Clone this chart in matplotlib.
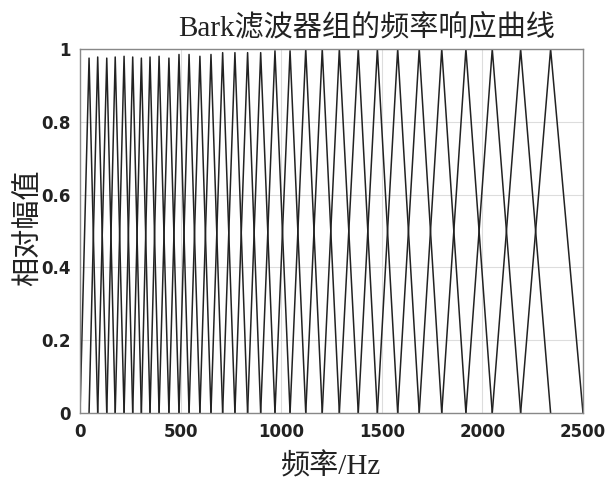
import matplotlib
matplotlib.use("Agg")
import matplotlib.pyplot as plt
import numpy as np

# Centre frequencies (Hz) of the Bark triangular filters
centers = [45, 88, 133, 175, 219, 262, 305, 348, 393, 442, 492, 542, 596, 651,
           709, 770, 833, 898, 969, 1044, 1122, 1204, 1289, 1383, 1478, 1579,
           1686, 1798, 1918, 2049, 2190, 2339]
# Peak heights of each filter
peaks = [0.975, 0.978, 0.975, 0.978, 0.98, 0.978, 0.975, 0.978, 0.98, 0.975,
         0.985, 0.985, 0.98, 0.985, 0.99, 0.99, 0.99, 0.99, 0.995, 0.995, 1.0,
         1.0, 1.0, 1.0, 1.0, 1.0, 1.0, 1.0, 1.0, 1.0, 1.0, 1.0]
f_min, f_max = 0, 2500

title = "Bark滤波器组的频率响应曲线"
xlabel = "频率/Hz"
ylabel = "相对幅值"
xticks = [0, 500, 1000, 1500, 2000, 2500]
yticks = [0, 0.2, 0.4, 0.6, 0.8, 1]

plt.rcParams['font.family'] = ['Liberation Serif', 'Noto Sans CJK SC', 'DejaVu Sans']

fig = plt.figure(figsize=(6.05, 4.83), dpi=100)
ax = fig.add_axes([80/605, 1-413/483, (583-80)/605, (413-49)/483])

edges = [f_min] + centers + [f_max]
for i, c in enumerate(centers):
    lo, hi = edges[i], edges[i + 2]
    ax.plot([lo, c, hi], [0, peaks[i], 0], color='#222222', lw=1.1)

ax.set_xlim(f_min, f_max)
ax.set_ylim(0, 1)
ax.set_xticks(xticks)
ax.set_yticks(yticks)
ax.set_xticklabels([str(t) for t in xticks], fontfamily='DejaVu Sans',
                   fontweight='bold', fontsize=12, color='#222222')
ax.set_yticklabels(['0', '0.2', '0.4', '0.6', '0.8', '1'], fontfamily='DejaVu Sans',
                   fontweight='bold', fontsize=12, color='#222222')
ax.grid(True, color='#dddddd', lw=0.8)
ax.set_axisbelow(True)
for s in ax.spines.values():
    s.set_color('#888888')
    s.set_linewidth(1.0)
ax.tick_params(length=0, pad=7)

ax.set_title(title, fontsize=21, pad=10, color='#222222', fontweight='medium',
             x=(367-80)/503)
ax.set_xlabel(xlabel, fontsize=21, labelpad=9, color='#222222', fontweight='medium')
ax.set_ylabel(ylabel, fontsize=21, color='#222222', fontweight='medium')
ax.yaxis.set_label_coords((43-80)/503, (413-228)/364)

fig.savefig("out.png", dpi=100)
